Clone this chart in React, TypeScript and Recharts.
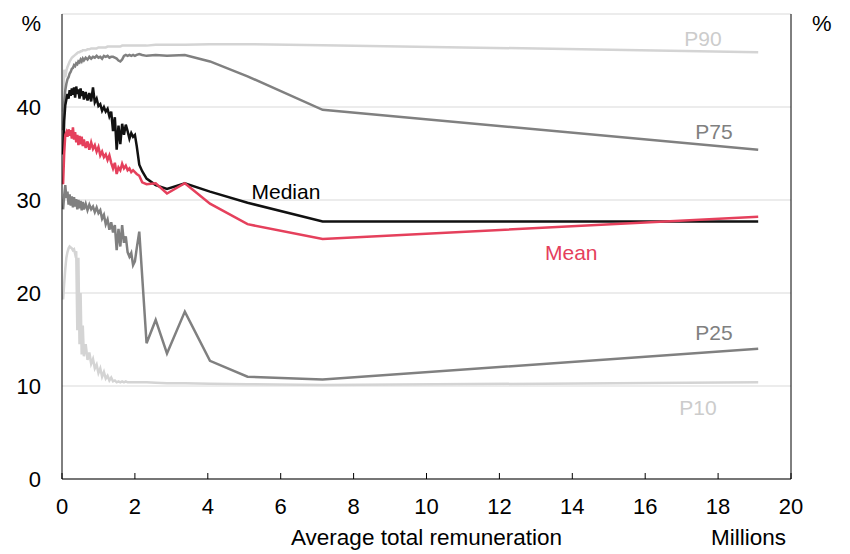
import React from "react";
import { LineChart, Line, XAxis, YAxis, CartesianGrid } from "recharts";

// Average total remuneration (millions)
const xs = [
  0.03, 0.06, 0.09, 0.12, 0.15, 0.18, 0.21, 0.24, 0.27, 0.3,
  0.33, 0.36, 0.39, 0.42, 0.45, 0.48, 0.51, 0.54, 0.57, 0.6,
  0.65, 0.7, 0.75, 0.8, 0.85, 0.9, 0.95, 1.0, 1.05, 1.1,
  1.15, 1.2, 1.25, 1.3, 1.35, 1.4, 1.45, 1.5, 1.55, 1.6,
  1.65, 1.7, 1.75, 1.8, 1.85, 1.9, 1.95, 2.0, 2.05, 2.12,
  2.2, 2.32, 2.57, 2.88, 3.37, 4.06, 5.09, 7.15, 19.1,
];

const median = [
  34.9, 38.5, 40.2, 40.8, 41.4, 40.9, 41.8, 41.2, 42.0, 41.3,
  42.1, 41.0, 42.2, 41.4, 41.9, 40.9, 42.0, 41.2, 41.7, 40.8,
  41.6, 40.7, 41.5, 40.6, 42.1, 40.5, 40.9, 40.1, 40.3, 39.6,
  40.0, 39.5, 39.8, 39.0, 39.5, 37.4, 38.9, 35.4, 38.0, 36.0,
  38.2, 37.0, 38.1, 37.4, 36.6, 37.2, 36.8, 37.0, 35.8, 33.8,
  33.1, 32.3, 31.6, 31.2, 31.8, 30.9, 29.7, 27.7, 27.7,
];

const mean = [
  31.7, 35.0, 37.0, 37.3, 36.8, 37.6, 36.9, 37.5, 36.6, 37.8,
  36.5, 37.3, 36.2, 37.0, 35.9, 36.9, 36.0, 36.8, 35.8, 36.5,
  35.6, 36.3, 35.4, 36.2, 35.5, 35.9, 35.2, 35.7, 34.8, 35.2,
  34.6, 34.9, 34.3, 34.8, 34.0, 33.4, 34.0, 32.8, 33.5, 33.2,
  33.9, 33.4, 33.7, 33.2, 33.4, 33.0, 33.2, 33.0, 32.8, 32.6,
  31.9, 31.7, 31.8, 30.7, 31.8, 29.6, 27.4, 25.8, 28.2,
];

const p75 = [
  37.5, 40.5, 41.8, 42.5, 43.0, 43.2, 43.6, 43.8, 44.1, 44.2,
  44.5, 44.4, 44.7, 44.6, 44.9, 44.8, 45.1, 44.9, 45.2, 45.0,
  45.3, 45.1, 45.4, 45.2, 45.4, 45.3, 45.5, 45.3, 45.4, 45.2,
  45.5, 45.4, 45.5, 45.3, 45.4, 45.4, 45.3, 45.2, 45.0, 44.9,
  45.1, 45.5, 45.6, 45.5, 45.6, 45.5, 45.6, 45.5, 45.6, 45.7,
  45.6, 45.5, 45.6, 45.5, 45.6, 44.9, 43.3, 39.7, 35.4,
];

const p90 = [
  39.5, 44.0, 43.2, 43.9, 44.3, 44.6, 44.9, 45.1, 45.3, 45.4,
  45.5, 45.6, 45.7, 45.8, 45.9, 45.9, 46.0, 46.0, 46.1, 46.1,
  46.1, 46.2, 46.2, 46.3, 46.3, 46.3, 46.3, 46.4, 46.4, 46.4,
  46.4, 46.4, 46.5, 46.5, 46.5, 46.5, 46.5, 46.5, 46.5, 46.5,
  46.6, 46.6, 46.6, 46.6, 46.6, 46.6, 46.6, 46.6, 46.6, 46.6,
  46.6, 46.6, 46.7, 46.7, 46.7, 46.75, 46.75, 46.65, 45.9,
];

const p25 = [
  29.0, 30.5, 31.6, 30.2, 30.9, 29.5, 30.6, 29.4, 30.4, 29.2,
  30.3, 29.3, 30.1, 29.0, 30.0, 29.1, 29.9, 28.9, 29.8, 29.0,
  29.6, 28.9, 29.5, 29.0, 29.3, 28.7, 29.2, 28.6, 28.9, 28.0,
  28.4, 27.4, 27.9, 26.8, 27.6, 26.5, 27.3, 24.6, 26.9, 25.0,
  27.3, 25.4, 26.1, 24.4, 23.9, 24.3, 23.0, 23.4, 24.8, 26.6,
  null, 14.6, 17.1, 13.5, 18.0, 12.7, 11.0, 10.7, 14.0,
];

const p10 = [
  19.3, 21.0, 22.6, 23.8, 24.4, 24.8, 25.0, 24.9, 24.8, 24.6,
  24.7, 24.2, 24.5, 16.0, 23.8, 14.5, 20.0, 13.4, 16.5, 13.2,
  14.5, 12.8, 13.6, 12.4, 12.9, 11.9, 12.3, 11.4, 11.9, 11.0,
  11.5, 10.8, 11.1, 10.6, 10.9, 10.5, 10.6, 10.4, 10.5, 10.4,
  10.5, 10.4, 10.5, 10.4, 10.4, 10.4, 10.4, 10.4, 10.4, 10.4,
  10.4, 10.4, 10.35, 10.3, 10.3, 10.25, 10.2, 10.1, 10.4,
];

const xTicks = [0, 2, 4, 6, 8, 10, 12, 14, 16, 18, 20];
const yTicks = [0, 10, 20, 30, 40, 50];
const yTickLabels: Record<number, string> = { 0: "0", 10: "10", 20: "20", 30: "30", 40: "40", 50: "" };

const data = xs.map((x, i) => ({
  x,
  median: median[i],
  mean: mean[i],
  p10: p10[i],
  p25: p25[i],
  p75: p75[i],
  p90: p90[i],
}));

const FONT = '"Liberation Sans", Arial, sans-serif';
const DARK = "#808080";
const LIGHT = "#d4d4d4";
const RED = "#e5405c";

const XTick = (props: any) => {
  const { x, y, payload } = props;
  return (
    <g>
      <line x1={x} x2={x} y1={y} y2={y - 6} stroke="#000" strokeWidth={1} />
      <text x={x} y={y + 35} textAnchor="middle" fontSize={22} fontFamily={FONT} fill="#000">
        {payload.value}
      </text>
    </g>
  );
};

const LeftTick = (props: any) => {
  const { x, y, payload } = props;
  return (
    <text x={x - 21} y={y + 8} textAnchor="end" fontSize={22} fontFamily={FONT} fill="#000">
      {yTickLabels[payload.value]}
    </text>
  );
};

const RightTick = (props: any) => {
  const { x, y, payload } = props;
  return (
    <text x={x + 21} y={y + 8} textAnchor="start" fontSize={22} fontFamily={FONT} fill="#000">
      {yTickLabels[payload.value]}
    </text>
  );
};

export default function App() {
  return (
    <div style={{ position: "fixed", left: 0, top: 0, width: 850, height: 554, background: "#fff" }}>
      <LineChart
        width={850}
        height={554}
        data={data}
        margin={{ top: 14, right: 19, bottom: 45, left: 22 }}
      >
        <CartesianGrid vertical={false} stroke="#d9d9d9" strokeWidth={1} />
        <XAxis
          type="number"
          dataKey="x"
          domain={[0, 20]}
          ticks={xTicks}
          tickLine={false}
          tickSize={0}
          tickMargin={0}
          height={30}
          axisLine={{ stroke: "#000", strokeWidth: 1 }}
          tick={<XTick />}
          interval={0}
        />
        <YAxis
          domain={[0, 50]}
          ticks={yTicks}
          width={40}
          tickLine={false}
          tickSize={0}
          tickMargin={0}
          axisLine={{ stroke: "#000", strokeWidth: 1 }}
          tick={<LeftTick />}
          interval={0}
        />
        <YAxis
          yAxisId="right"
          orientation="right"
          domain={[0, 50]}
          ticks={yTicks}
          width={40}
          tickLine={false}
          tickSize={0}
          tickMargin={0}
          axisLine={{ stroke: "#000", strokeWidth: 1 }}
          tick={<RightTick />}
          interval={0}
        />
        <Line dataKey="p10" stroke={LIGHT} strokeWidth={2.5} dot={false} isAnimationActive={false} type="linear" />
        <Line dataKey="p90" stroke={LIGHT} strokeWidth={2.5} dot={false} isAnimationActive={false} type="linear" />
        <Line dataKey="p25" stroke={DARK} strokeWidth={2.5} dot={false} isAnimationActive={false} type="linear" connectNulls />
        <Line dataKey="p75" stroke={DARK} strokeWidth={2.5} dot={false} isAnimationActive={false} type="linear" />
        <Line dataKey="median" stroke="#111" strokeWidth={2.5} dot={false} isAnimationActive={false} type="linear" />
        <Line dataKey="mean" stroke={RED} strokeWidth={2.5} dot={false} isAnimationActive={false} type="linear" />
      </LineChart>
      <svg
        width={850}
        height={554}
        style={{ position: "absolute", left: 0, top: 0, pointerEvents: "none" }}
        fontFamily={FONT}
      >
        <text x={41} y={31} textAnchor="end" fontSize={22} fill="#000">%</text>
        <text x={812} y={31} textAnchor="start" fontSize={22} fill="#000">%</text>
        <text x={703} y={46} textAnchor="middle" fontSize={21} fill="#cccccc">P90</text>
        <text x={714} y={139} textAnchor="middle" fontSize={21} fill={DARK}>P75</text>
        <text x={251.5} y={199} textAnchor="start" fontSize={21} fill="#000">Median</text>
        <text x={545} y={260} textAnchor="start" fontSize={21} fill={RED}>Mean</text>
        <text x={714} y={340} textAnchor="middle" fontSize={21} fill={DARK}>P25</text>
        <text x={698} y={415} textAnchor="middle" fontSize={21} fill="#cccccc">P10</text>
        <text x={426.5} y={545} textAnchor="middle" fontSize={22.5} fill="#000">Average total remuneration</text>
        <text x={748.5} y={545} textAnchor="middle" fontSize={22.5} fill="#000">Millions</text>
      </svg>
    </div>
  );
}
